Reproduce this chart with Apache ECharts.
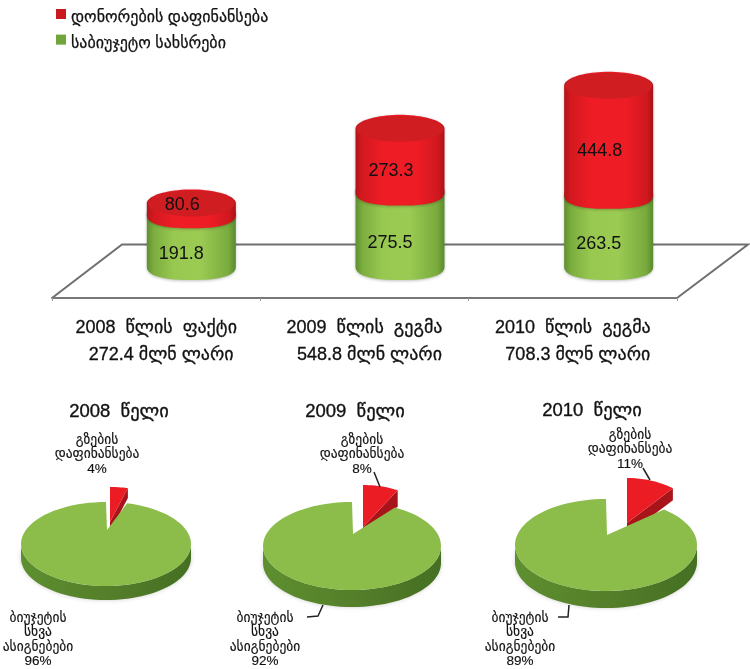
<!DOCTYPE html>
<html><head><meta charset="utf-8">
<style>html,body{margin:0;padding:0;background:#fff}#c{width:750px;height:669px}</style>
<script src="https://cdn.jsdelivr.net/npm/echarts@6/dist/echarts.min.js"></script>
</head><body><div id="c"></div>
<script>
// ---- data ----
const years = ['2008  წლის  ფაქტი', '2009  წლის  გეგმა', '2010  წლის  გეგმა'];
const totals = ['272.4 მლნ ლარი', '548.8 მლნ ლარი', '708.3 მლნ ლარი'];
const budgetFunds = [191.8, 275.5, 263.5];
const donorFunds = [80.6, 273.3, 444.8];
const budgetName = 'საბიუჯეტო სახსრები';
const donorName = 'დონორების დაფინანსება';
const pieTitles = ['2008  წელი', '2009  წელი', '2010  წელი'];
const roadShare = [4, 8, 11];
const otherShare = [96, 92, 89];
const roadLabel = ['გზების', 'დაფინანსება'];
const otherLabel = ['ბიუჯეტის', 'სხვა', 'ასიგნებები'];

// ---- layout / style ----
const FONT = '"Liberation Sans","DejaVu Sans",sans-serif';
const pieLayout = [
 {cx:106,cy:544,rx:85,ry:42,ay:530,th:14,rAx:110,rAy:522,rRy:35,rTh:10,titleX:119,titleY:412,topX:97,topY:440,botX:38,botY:618,
  leadTop:null,leadBot:null},
 {cx:352,cy:546,rx:89,ry:44,ay:534,th:17,rAx:363,rAy:527,rRy:42,rTh:16,titleX:355,titleY:412,topX:362,topY:440,botX:265,botY:618,
  leadTop:[[374,472],[380,487]],leadBot:[[307,617],[318,616],[323,605]]},
 {cx:606,cy:545,rx:91,ry:46,ay:535,th:17,rAx:627,rAy:523,rRy:45,rTh:12,titleX:592,titleY:411,topX:630,topY:435,botX:520,botY:618,
  leadTop:[[643,468],[650,480]],leadBot:[[558,617],[568,617],[569,605]]}
];
const RX = 44.5, RY = 14, CAP_INSET = 11;

function hGrad(stops){
  return new echarts.graphic.LinearGradient(0,0,1,0,stops.map((c,i)=>({offset:c[0],color:c[1]})));
}
const greenFace = () => hGrad([[0,'#5f8f30'],[0.08,'#7cae3f'],[0.3,'#98c850'],[0.6,'#9ccb54'],[0.92,'#78aa3d'],[1,'#5a8a2e']]);
const redFace = () => hGrad([[0,'#b01318'],[0.07,'#d2191f'],[0.3,'#ee1c25'],[0.7,'#ee1c25'],[0.93,'#cf181e'],[1,'#a81217']]);

function arc(cx,cy,rx,ry,a0,a1,n){
  const p=[];
  for(let i=0;i<=n;i++){const a=(a0+(a1-a0)*i/n)*Math.PI/180;p.push([cx+rx*Math.sin(a),cy-ry*Math.cos(a)]);}
  return p;
}
function softArc(cx,cy,rx,ry,a0,a1,n,e){
  const p=[];
  for(let i=0;i<=n;i++){const a=(a0+(a1-a0)*i/n)*Math.PI/180;const s=Math.sin(a),c=Math.cos(a);
    p.push([cx+rx*Math.sign(s)*Math.pow(Math.abs(s),e),cy-ry*Math.sign(c)*Math.pow(Math.abs(c),e)]);}
  return p;
}
function bodyPts(x,yT,yB){
  return softArc(x,yB,RX,RY,270,90,50,0.8).concat(arc(x,yT,RX,RY,90,0,20).map(p=>[p[0],p[1]]).concat(arc(x,yT,RX,RY,0,-90,20)));
}
function cylinder(api, x, yT, yB, face, cap){
  const kids=[{type:'polygon',shape:{points:bodyPts(x,yT,yB)},style:{fill:face,shadowBlur:3,shadowColor:'rgba(0,0,0,0.25)',shadowOffsetY:1}}];
  if(cap) kids.push({type:'polygon',shape:{points:arc(x,yT,RX-1,RY-1,0,360,60)},style:{fill:cap}});
  return kids;
}
function barLabel(txt,x,y){
  return {type:'text',style:{text:txt,x:x,y:y,align:'center',verticalAlign:'middle',textAlign:'center',textVerticalAlign:'middle',font:'18px "Liberation Sans",sans-serif',fill:'#111'}};
}
function renderBudget(params,api){
  const p0=api.coord([api.value(0),0]), p1=api.coord([api.value(0),api.value(1)]);
  const x=p0[0], yB=p0[1], yT=p1[1];
  const kids=cylinder(api,x,yT,yB,greenFace(),null);
  kids.push(barLabel(api.value(1).toFixed(1),x-10,(yT+yB)/2+14));
  return {type:'group',children:kids};
}
function renderDonor(params,api){
  const base=api.value(2);
  const p0=api.coord([api.value(0),base]), p1=api.coord([api.value(0),base+api.value(1)]);
  const x=p0[0], yB=p0[1], yT=p1[1]+CAP_INSET;
  const kids=cylinder(api,x,yT,yB,redFace(),'#cf1d22');
  const h=yB-yT;
  kids.push(barLabel(api.value(1).toFixed(1),x-9, h<30 ? yT+2 : (yT+yB)/2+11));
  return {type:'group',children:kids};
}
function txt(t,x,y,size,bw){
  return {type:'text',style:{text:t,x:x,y:y,align:'center',verticalAlign:'middle',textAlign:'center',textVerticalAlign:'middle',font:size+'px '+FONT,fill:'#111',stroke:'#111',lineWidth:bw||0}};
}
function lead(pts){return {type:'polyline',shape:{points:pts},style:{stroke:'#222',lineWidth:1.5,fill:null}};}
function renderPie(params,api){
  const i=params.dataIndex, L=pieLayout[i];
  const road=api.value(1), other=api.value(2);
  const ang=road/(road+other)*360;
  const kids=[];
  const redArc=arc(L.rAx,L.rAy,72,L.rRy,0,ang,12);
  const tip=redArc[redArc.length-1];
  kids.push({type:'polygon',shape:{points:[[L.rAx,L.rAy],tip,[tip[0],tip[1]+L.rTh],[L.rAx,L.rAy+L.rTh]]},style:{fill:'#a8141a'}});
  kids.push({type:'polygon',shape:{points:[[L.rAx,L.rAy]].concat(redArc)},style:{fill:'#ec1c24'}});
  const low=arc(L.cx,L.cy,L.rx,L.ry,90,270,50);
  const rim=low.concat(low.slice().reverse().map(p=>[p[0],p[1]+L.th]));
  kids.push({type:'polygon',shape:{points:rim},style:{fill:new echarts.graphic.LinearGradient(0,0,1,0,[{offset:0,color:'#5d8f2f'},{offset:0.5,color:'#557f2a'},{offset:1,color:'#456f22'}]),shadowBlur:4,shadowColor:'rgba(0,0,0,0.2)'}});
  kids.push({type:'polygon',shape:{points:[[L.cx+1,L.ay]].concat(arc(L.cx,L.cy,L.rx,L.ry,ang,360,90))},style:{fill:'#8cbd4a'}});
  kids.push(txt(pieTitles[i],L.titleX,L.titleY,18.5,0.35));
  const top=roadLabel.concat([road+'%']);
  top.forEach((s,k)=>kids.push(txt(s,L.topX,L.topY+k*14.5,13.5,0.15)));
  const bot=otherLabel.concat([other+'%']);
  bot.forEach((s,k)=>kids.push(txt(s,L.botX,L.botY+k*14.5,13.5,0.15)));
  if(L.leadTop) kids.push(lead(L.leadTop));
  if(L.leadBot) kids.push(lead(L.leadBot));
  return {type:'group',children:kids};
}

const chart=echarts.init(document.getElementById('c'),null,{renderer:'canvas'});
chart.setOption({
  animation:false,
  backgroundColor:'#fff',
  legend:{left:51,top:4,orient:'vertical',itemWidth:10,itemHeight:10,itemGap:9,icon:'rect',
    data:[donorName,budgetName],formatter:n=>'{t|'+n+'}',
    textStyle:{rich:{t:{fontFamily:FONT,fontSize:16,color:'#111',padding:[7,0,0,0],textBorderColor:'#111',textBorderWidth:0.25}}}},
  grid:[{left:87,width:626,top:50,height:216},{left:52,width:625,top:297,height:1}],
  xAxis:[
    {type:'category',gridIndex:0,data:years,show:false},
    {type:'category',gridIndex:1,data:years.map((y,i)=>y+'\n  '+totals[i]),boundaryGap:true,
     axisLine:{show:true,lineStyle:{color:'#777',width:2}},axisTick:{show:true,alignWithLabel:false,length:3,lineStyle:{color:'#999'}},
     axisLabel:{show:true,interval:0,margin:17,fontFamily:FONT,fontSize:18,lineHeight:27,color:'#111',align:'center',textBorderColor:'#111',textBorderWidth:0.3}}
  ],
  yAxis:[
    {type:'value',gridIndex:0,min:0,max:800,show:false},
    {type:'value',gridIndex:1,min:0,max:1,show:false}
  ],
  graphic:[{type:'polyline',z:0,shape:{points:[[52,298],[122,244.5],[748,244.5],[677,298]]},style:{stroke:'#6f6f6f',lineWidth:2,fill:null}}],
  series:[
    {name:budgetName,type:'custom',xAxisIndex:0,yAxisIndex:0,coordinateSystem:'cartesian2d',renderItem:renderBudget,
     itemStyle:{color:'#6fa53a'},encode:{x:0,y:1},data:budgetFunds.map((v,i)=>[i,v]),z:3},
    {name:donorName,type:'custom',xAxisIndex:0,yAxisIndex:0,coordinateSystem:'cartesian2d',renderItem:renderDonor,
     itemStyle:{color:'#c9181e'},encode:{x:0,y:1},data:donorFunds.map((v,i)=>[i,v,budgetFunds[i]]),z:4},
    {type:'custom',coordinateSystem:'none',renderItem:renderPie,silent:true,z:5,
     data:roadShare.map((v,i)=>[i,v,otherShare[i]])}
  ]
});
</script></body></html>
